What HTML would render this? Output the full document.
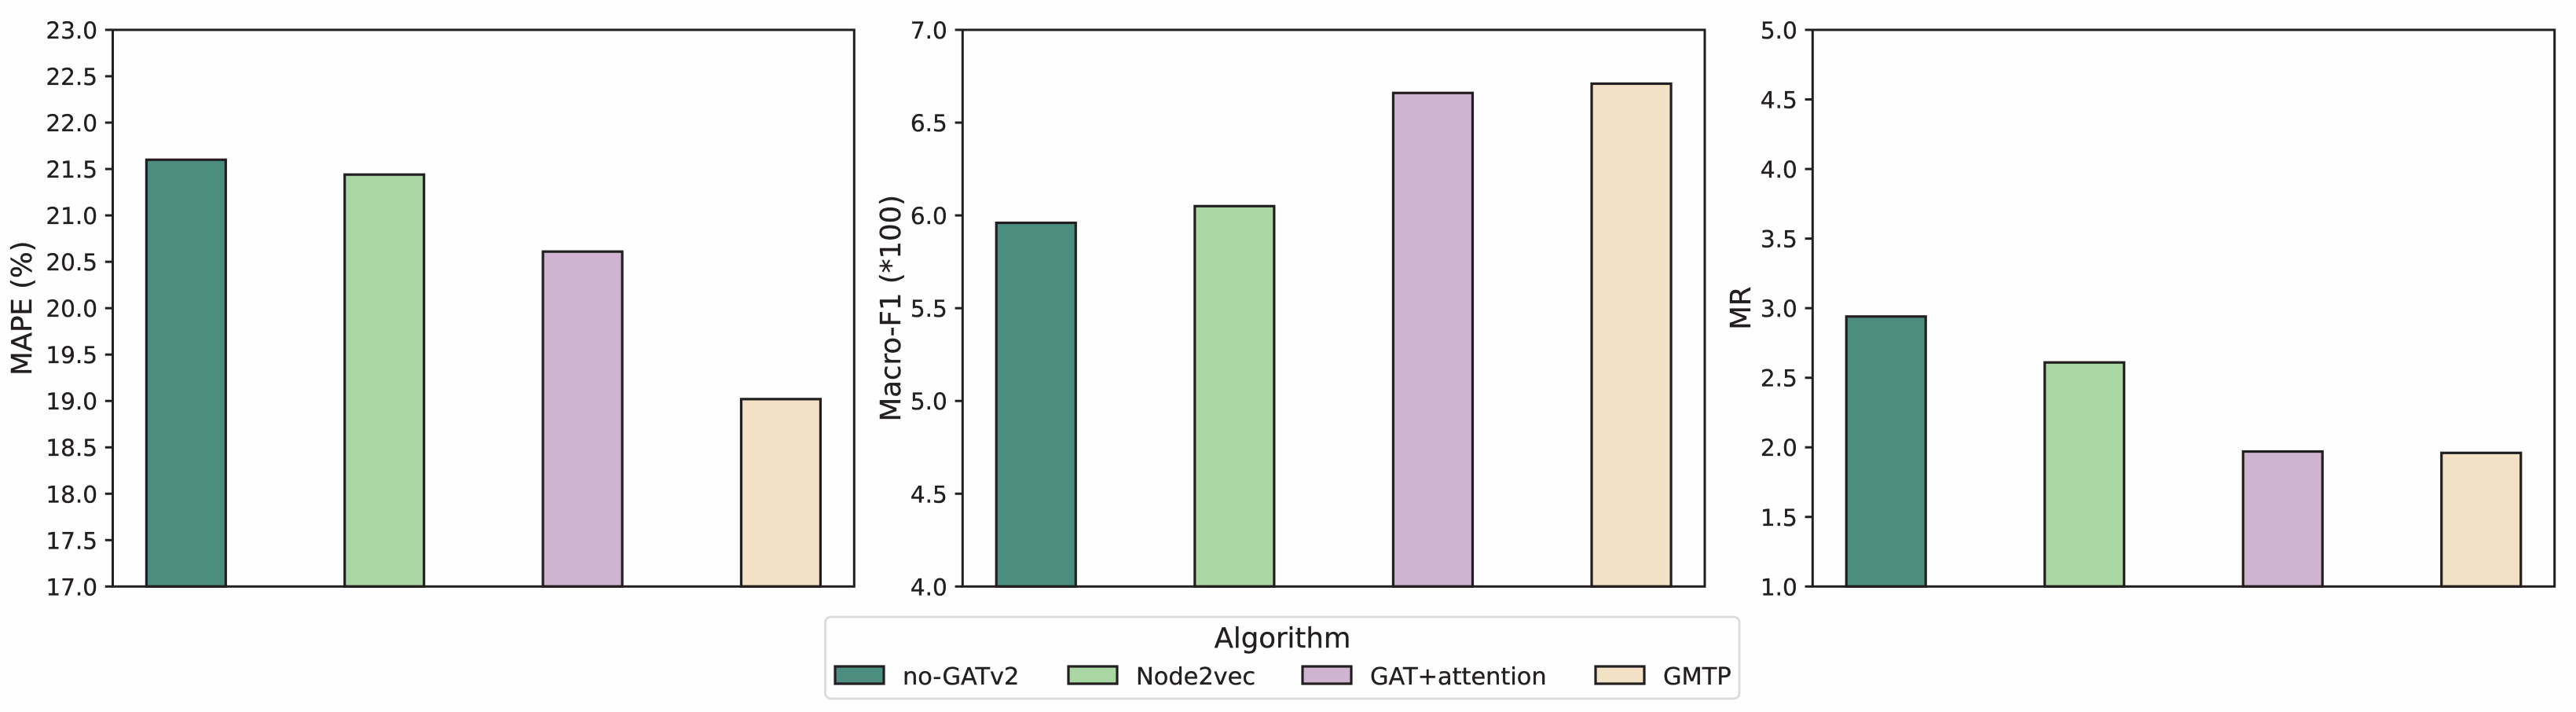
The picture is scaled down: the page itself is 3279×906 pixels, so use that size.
<!DOCTYPE html>
<html lang="en">
<head>
<meta charset="utf-8">
<title>Algorithm comparison</title>
<style>
html,body{margin:0;padding:0;background:#fefefe;width:3279px;height:906px;overflow:hidden}
svg{display:block}
text{font-family:"DejaVu Sans","Liberation Sans",sans-serif;fill:#231f20;stroke:#231f20;stroke-width:0.35px}
</style>
</head>
<body>
<svg id="chart" xmlns="http://www.w3.org/2000/svg" width="3279" height="906" viewBox="0 0 3279 906"></svg>
<script>
const algorithms = ['no-GATv2', 'Node2vec', 'GAT+attention', 'GMTP'];
const barColors = ['#4b8e80', '#aad6a4', '#d0b3d1', '#f2e1c5'];
const mapeValues = [21.60, 21.44, 20.61, 19.02];
const macroF1Values = [5.96, 6.05, 6.66, 6.71];
const mrValues = [2.94, 2.61, 1.97, 1.96];
const mapeTicks = ['17.0','17.5','18.0','18.5','19.0','19.5','20.0','20.5','21.0','21.5','22.0','22.5','23.0'];
const macroF1Ticks = ['4.0','4.5','5.0','5.5','6.0','6.5','7.0'];
const mrTicks = ['1.0','1.5','2.0','2.5','3.0','3.5','4.0','4.5','5.0'];

const INK = '#231f20';
const SVG_NS = 'http://www.w3.org/2000/svg';
const svg = document.getElementById('chart');
const TOP = 38, BOTTOM = 746.3;

function make(tag, parent, props, text) {
  const el = document.createElementNS(SVG_NS, tag);
  for (const k in props) el.setAttribute(k, props[k]);
  if (text !== undefined) el.textContent = text;
  parent.appendChild(el);
  return el;
}

function drawPanel(panelName, left, right, title, titleX, values, ticks) {
  const g = make('g', svg, {});
  
  
  const yMin = parseFloat(ticks[0]);
  const yMax = parseFloat(ticks[ticks.length - 1]);
  const yScale = v => BOTTOM - (v - yMin) / (yMax - yMin) * (BOTTOM - TOP);
  const unit = (right - left) / 3.74;
  const xScale = i => left + (i + 0.37) * unit;

  values.forEach((v, i) => {
    const bar = make('rect', g, {
      x: xScale(i) - 0.2 * unit,
      y: yScale(v),
      width: 0.4 * unit,
      height: BOTTOM - yScale(v),
      fill: barColors[i],
      stroke: INK,
      'stroke-width': 3.2
    });
    
    
  });

  ticks.forEach(t => {
    const y = yScale(parseFloat(t));
    const mark = make('line', g, { x1: left - 9.7, x2: left, y1: y, y2: y, stroke: INK, 'stroke-width': 3 });
    
    
    const label = make('text', g, { x: left - 19.5, y: y + 11, 'text-anchor': 'end', 'font-size': 29.5 }, t);
    
    
  });

  const frame = make('rect', g, {
    x: left, y: TOP, width: right - left, height: BOTTOM - TOP,
    fill: 'none', stroke: INK, 'stroke-width': 3
  });
  
  

  const cy = (TOP + BOTTOM) / 2;
  const yTitle = make('text', g, {
    x: titleX, y: cy, 'text-anchor': 'middle', 'font-size': 35.5,
    transform: 'rotate(-90 ' + titleX + ' ' + cy + ')'
  }, title);
  
  
}

drawPanel('mape', 143.5, 1087.3, 'MAPE (%)', 40, mapeValues, mapeTicks);
drawPanel('macro-f1', 1225.3, 2170, 'Macro-F1 (*100)', 1146, macroF1Values, macroF1Ticks);
drawPanel('mr', 2307.3, 3251.7, 'MR', 2228, mrValues, mrTicks);

const legend = make('g', svg, {});


const legendFrame = make('rect', legend, {
  x: 1050.5, y: 785, width: 1163.5, height: 104, rx: 7, ry: 7,
  fill: '#fefefe', stroke: '#dcddde', 'stroke-width': 3
});


const legendTitle = make('text', legend, { x: 1632.5, y: 824, 'text-anchor': 'middle', 'font-size': 35.5 }, 'Algorithm');



const legendLefts = [1063, 1360, 1658, 2031];
algorithms.forEach((name, i) => {
  const swatch = make('rect', legend, {
    x: legendLefts[i], y: 848, width: 62, height: 22,
    fill: barColors[i], stroke: INK, 'stroke-width': 3.2
  });
  
  
  const label = make('text', legend, { x: legendLefts[i] + 86, y: 871, 'font-size': 30.4 }, name);
  
  
});
</script>
</body>
</html>
